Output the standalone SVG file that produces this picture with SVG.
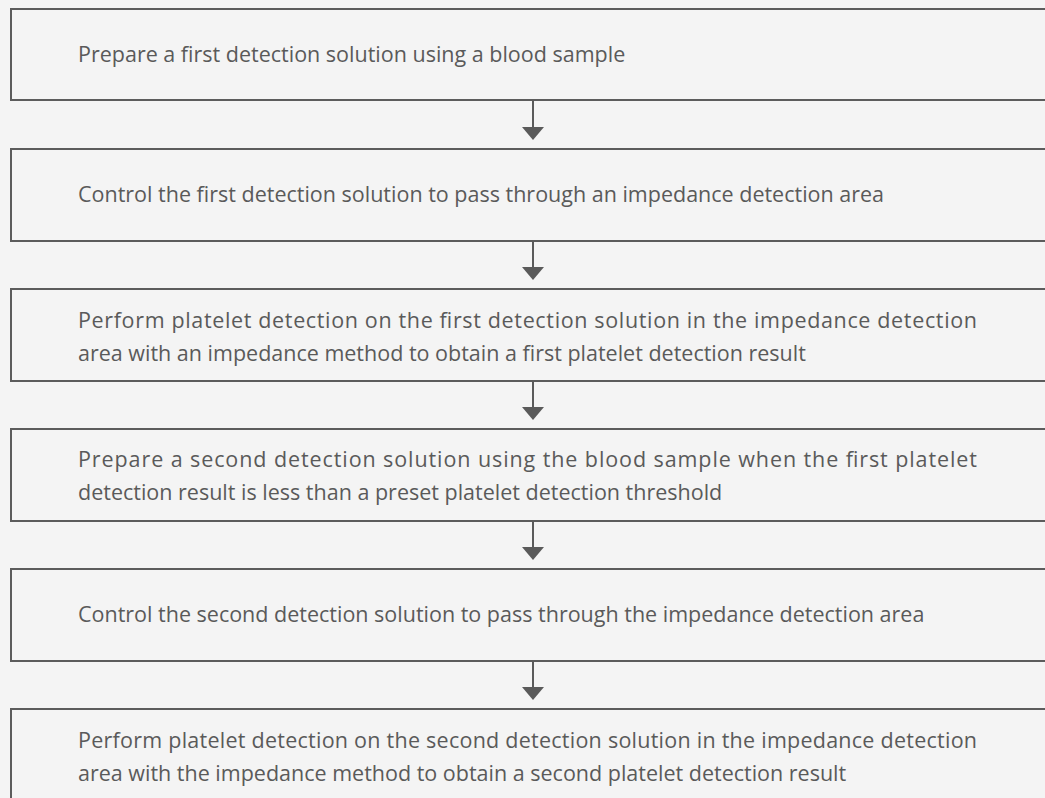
<svg xmlns="http://www.w3.org/2000/svg" width="1045" height="798" viewBox="0 0 1045 798">
<defs>
<style>
.box{fill:#f4f4f4;stroke:#5c5c5c;stroke-width:2}
.t{font-family:"Open Sans","Noto Sans",sans-serif;font-size:21.5px;fill:#5a5a5a}
.c{stroke:#5a5a5a;stroke-width:2;fill:none}
.ah{fill:#5a5a5a}
</style>
</defs>
<rect width="1045" height="798" fill="#f4f4f4"/>
<g id="n1"><rect class="box" x="11" y="9" width="1040" height="91"/><text class="t" x="78" y="62">Prepare a first detection solution using a blood sample</text></g>
<g id="n2"><rect class="box" x="11" y="149" width="1040" height="92"/><text class="t" x="78" y="202">Control the first detection solution to pass through an impedance detection area</text></g>
<g id="n3"><rect class="box" x="11" y="289" width="1040" height="92"/><text class="t" x="78" y="328" textLength="899" lengthAdjust="spacing">Perform platelet detection on the first detection solution in the impedance detection</text><text class="t" x="78" y="361">area with an impedance method to obtain a first platelet detection result</text></g>
<g id="n4"><rect class="box" x="11" y="429" width="1040" height="92"/><text class="t" x="78" y="467" textLength="899" lengthAdjust="spacing">Prepare a second detection solution using the blood sample when the first platelet</text><text class="t" x="78" y="500">detection result is less than a preset platelet detection threshold</text></g>
<g id="n5"><rect class="box" x="11" y="569" width="1040" height="92"/><text class="t" x="78" y="622">Control the second detection solution to pass through the impedance detection area</text></g>
<g id="n6"><rect class="box" x="11" y="709" width="1040" height="92"/><text class="t" x="78" y="748" textLength="899" lengthAdjust="spacing">Perform platelet detection on the second detection solution in the impedance detection</text><text class="t" x="78" y="781">area with the impedance method to obtain a second platelet detection result</text></g>
<g id="connectors">
<path class="c" d="M533,100 V128"/><polygon class="ah" points="522,127 544,127 533,140"/>
<path class="c" d="M533,241 V268"/><polygon class="ah" points="522,267 544,267 533,280"/>
<path class="c" d="M533,381 V408"/><polygon class="ah" points="522,407 544,407 533,420"/>
<path class="c" d="M533,521 V548"/><polygon class="ah" points="522,547 544,547 533,560"/>
<path class="c" d="M533,661 V688"/><polygon class="ah" points="522,687 544,687 533,700"/>
</g>
</svg>
